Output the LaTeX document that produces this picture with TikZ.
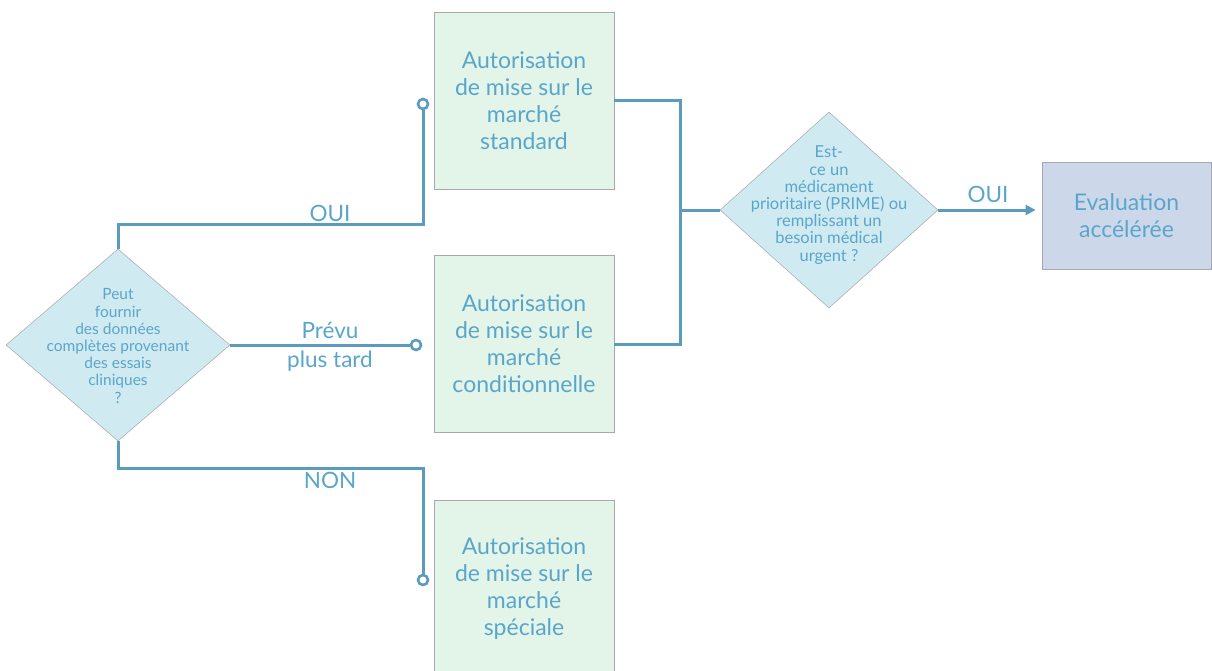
\documentclass[tikz,border=0pt]{standalone}
\usepackage{fontspec}
\setmainfont{Lato}
\usetikzlibrary{shapes.geometric,arrows.meta}
\definecolor{wire}{HTML}{5B9BBD}
\definecolor{ink}{HTML}{5AA6CB}
\definecolor{boxfill}{HTML}{E3F4E9}
\definecolor{qfill}{HTML}{CFEAF0}
\definecolor{evalfill}{HTML}{CDD7EA}
\definecolor{edge}{HTML}{A8A8A8}
\begin{document}
\begin{tikzpicture}[x=1pt,y=-1pt,
  outcome/.style={draw=edge, line width=0.8pt, fill=boxfill, minimum width=180pt,
    minimum height=177pt, inner sep=0pt, text=ink, align=center,
    font=\fontsize{23}{27}\selectfont},
  question/.style={diamond, draw=edge, line width=0.5pt, fill=qfill, inner sep=0pt},
  qtext/.style={text=ink, align=center, inner sep=0pt},
  wire/.style={draw=wire, line width=3pt},
  pin/.style={circle, draw=wire, line width=2.6pt, fill=white, minimum size=10pt, inner sep=0pt},
  branch/.style={text=ink, align=center, font=\fontsize{22.5}{29}\selectfont},
]
\useasboundingbox (0,0) rectangle (1212,671);

% decision diamonds
\node[question, minimum width=224pt, minimum height=192pt] (q1) at (118,345) {};
\node[qtext, font=\fontsize{15.5}{17.2}\selectfont] (q1t) at (118,346)
  {Peut\\fournir\\des données\\complètes provenant\\des essais\\cliniques\\?};
\node[question, minimum width=218pt, minimum height=196pt] (q2) at (829,210) {};
\node[qtext, font=\fontsize{16.5}{17.2}\selectfont] (q2t) at (829,205)
  {Est-\\ce un\\médicament\\prioritaire (PRIME) ou\\remplissant un\\besoin médical\\urgent ?};

% marketing authorisation boxes
\node[outcome] (b1) at (524,100.5) {Autorisation\\de mise sur le\\marché\\standard};
\node[outcome] (b2) at (524,344) {Autorisation\\de mise sur le\\marché\\conditionnelle};
\node[outcome] (b3) at (524,588.5) {Autorisation\\de mise sur le\\marché\\spéciale};

% final box
\node[draw=edge, line width=0.8pt, fill=evalfill, minimum width=169pt, minimum height=107pt,
  inner sep=0pt, text=ink, align=center, font=\fontsize{23}{27}\selectfont]
  (ev) at (1126.5,215.5) {Evaluation\\accélérée};

% branch end points
\node[pin] (p1) at (423,104) {};
\node[pin] (p2) at (416,345) {};
\node[pin] (p3) at (423,580) {};
\coordinate (join) at (680,210);

% branches from the first question
\draw[wire] (q1.north) -- ++(0,-24) -| (p1.south);
\draw[wire] (q1.east) -- (p2.west);
\draw[wire] (q1.south) -- ++(0,27) -| (p3.north);

% merge of the two upper boxes into the second question
\draw[wire] (b1.east) -| (join) |- (b2.east);
\draw[wire] (join) -- (q2.west);
\draw[wire, -{Triangle[length=10pt,width=10pt]}, shorten >=6pt] (q2.east) -- (q2.east -| ev.west);

% branch labels
\node[branch] (l1) at (330,213) {OUI};
\node[branch] (l2) at (330,347) {Prévu\\plus tard};
\node[branch] (l3) at (330,480) {NON};
\node[branch] (l4) at (988,194) {OUI};
\end{tikzpicture}
\end{document}
